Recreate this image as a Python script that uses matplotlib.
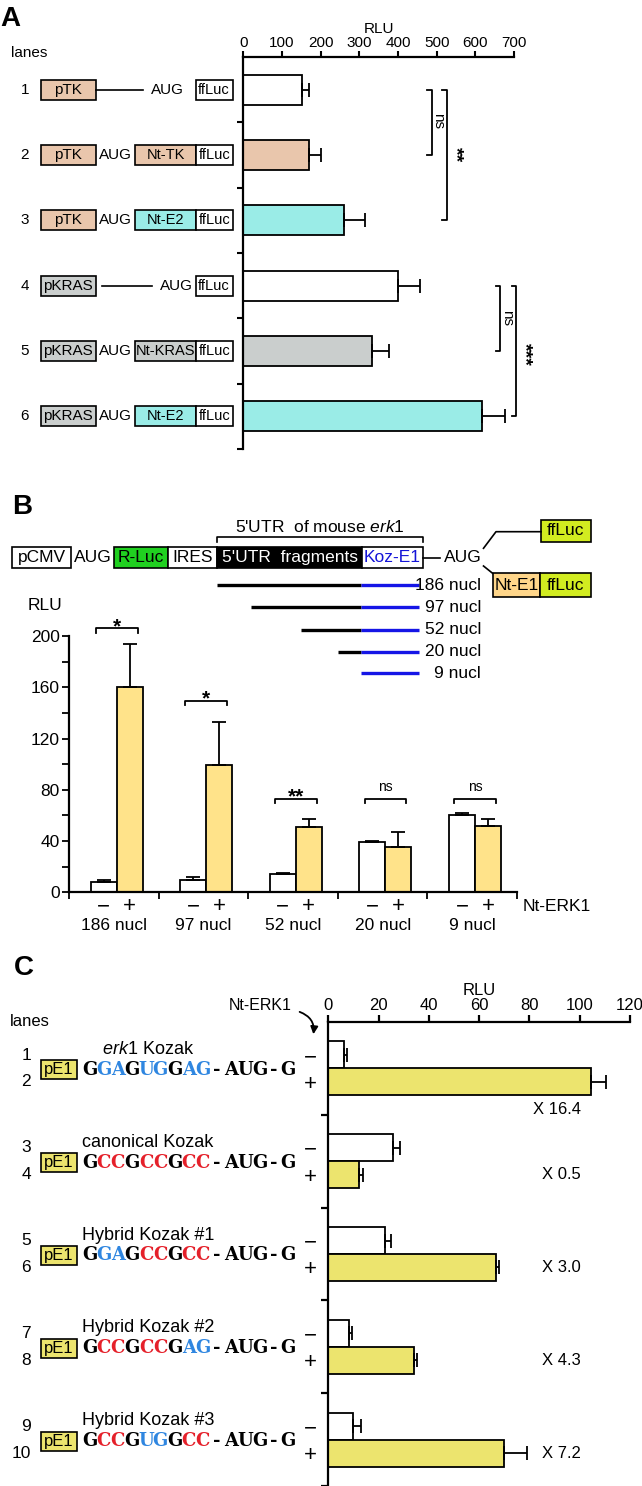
import numpy as np
import matplotlib
matplotlib.use('Agg')
import matplotlib.pyplot as plt
from matplotlib.patches import Rectangle, FancyArrowPatch

plt.rcParams['font.family'] = ['Liberation Sans', 'DejaVu Sans']
plt.rcParams['mathtext.fontset'] = 'custom'
plt.rcParams['mathtext.it'] = 'Liberation Sans:italic'
plt.rcParams['mathtext.rm'] = 'Liberation Sans'

# -------- Panel A data --------
lanes_a = ['1', '2', '3', '4', '5', '6']
promoters_a = ['pTK', 'pTK', 'pTK', 'pKRAS', 'pKRAS', 'pKRAS']
nterm_a = [None, 'Nt-TK', 'Nt-E2', None, 'Nt-KRAS', 'Nt-E2']
rlu_a = [152, 170, 260, 400, 332, 617]
err_a = [17, 31, 55, 58, 45, 60]
ticks_a = [0, 100, 200, 300, 400, 500, 600, 700]

# -------- Panel B data --------
frag_labels = ['186 nucl', '97 nucl', '52 nucl', '20 nucl', '9 nucl']
rlu_b_minus = [8, 9.5, 14, 39, 60]
err_b_minus = [1.5, 2.5, 1, 1, 1.5]
rlu_b_plus = [160, 99, 51, 35, 51.5]
err_b_plus = [34, 34, 6, 12, 6]
sig_b = ['*', '*', '**', 'ns', 'ns']
ticks_b = [0, 40, 80, 120, 160, 200]

# -------- Panel C data --------
lanes_c = ['1', '2', '3', '4', '5', '6', '7', '8', '9', '10']
kozak_names = [r'$\it{erk1}$ Kozak', 'canonical Kozak', 'Hybrid Kozak #1',
               'Hybrid Kozak #2', 'Hybrid Kozak #3']
kozak_seqs = ['GGAGUGGAG', 'GCCGCCGCC', 'GGAGCCGCC', 'GCCGCCGAG', 'GCCGUGGCC']
rlu_c_minus = [6.4, 25.9, 22.6, 8.1, 9.7]
err_c_minus = [1.2, 2.6, 2.2, 1.4, 3.2]
rlu_c_plus = [104.4, 12.2, 66.7, 34.2, 69.9]
err_c_plus = [6, 1.5, 1.3, 1.2, 9]
fold_c = ['X 16.4', 'X 0.5', 'X 3.0', 'X 4.3', 'X 7.2']
ticks_c = [0, 20, 40, 60, 80, 100, 120]

# colours
TAN = '#E9C6AC'
CYAN = '#9AECE7'
GREY = '#CACECD'
ORANGE = '#FFE38A'
YEL_C = '#ECE46E'
LIME = '#D2EC20'
KBLUE = '#2F86E0'
KRED = '#E5202A'

W, H = 642, 1486
fig = plt.figure(figsize=(6.42, 14.86), dpi=100)


def px_axes(x0, y0, x1, y1):
    a = fig.add_axes([x0 / W, 1 - y1 / H, (x1 - x0) / W, (y1 - y0) / H])
    a.set_facecolor('none')
    return a


# overlay in pixel coordinates for schematics and labels
ov = fig.add_axes([0, 0, 1, 1])
ov.set_xlim(0, W)
ov.set_ylim(H, 0)
ov.axis('off')
ov.patch.set_alpha(0)


def box(x0, x1, yc, h, fc, label='', tc='black', fs=11, lw=1.2):
    ov.add_patch(Rectangle((x0, yc - h / 2), x1 - x0, h, facecolor=fc,
                           edgecolor='black', lw=lw))
    if label:
        ov.text((x0 + x1) / 2, yc, label, ha='center', va='center',
                color=tc, fontsize=fs)


EKW = dict(ecolor='black', elinewidth=1.3, capsize=5, capthick=1.3)

# ================= Panel A =================
ov.text(0, 19, 'A', ha='left', va='center', fontsize=20, fontweight='bold')
ov.text(11, 53, 'lanes', ha='left', va='center', fontsize=11)

step_a = 65.33
for i in range(6):
    yc = 57 + (i + 0.5) * step_a
    ov.text(29, yc, lanes_a[i], ha='right', va='center', fontsize=11)
    pcol = TAN if promoters_a[i] == 'pTK' else GREY
    box(41, 95.5, yc, 20, pcol, promoters_a[i])
    if nterm_a[i] is None:
        if promoters_a[i] == 'pTK':
            ov.plot([95.5, 143], [yc, yc], color='k', lw=1.2)
            ov.text(167, yc, 'AUG', ha='center', va='center', fontsize=11)
        else:
            ov.plot([101.5, 151.5], [yc, yc], color='k', lw=1.2)
            ov.text(176.5, yc, 'AUG', ha='center', va='center', fontsize=11)
        box(195.5, 232.8, yc, 20, 'white', 'ffLuc', fs=10.5)
    else:
        ov.text(115, yc, 'AUG', ha='center', va='center', fontsize=11)
        ncol = {'Nt-TK': TAN, 'Nt-E2': CYAN, 'Nt-KRAS': GREY}[nterm_a[i]]
        box(134.7, 196.3, yc, 20, ncol, nterm_a[i], fs=10.5)
        box(196.3, 232.8, yc, 20, 'white', 'ffLuc', fs=10.5)

axA = px_axes(243.3, 57, 514, 449)
ya = np.arange(1, 7)
cols_a = ['white', TAN, CYAN, 'white', GREY, CYAN]
axA.barh(ya, rlu_a, height=0.46, color=cols_a, edgecolor='black', linewidth=1.3,
         xerr=[np.zeros(6), err_a], error_kw=EKW)
axA.set_xlim(0, 700)
axA.set_ylim(6.5, 0.5)
axA.xaxis.tick_top()
axA.xaxis.set_label_position('top')
axA.set_xticks(ticks_a)
axA.set_xlabel('RLU', fontsize=11, labelpad=2)
axA.set_yticks(np.arange(1.5, 7, 1))
axA.set_yticklabels([])
for s in ['right', 'bottom']:
    axA.spines[s].set_visible(False)
for s in ['top', 'left']:
    axA.spines[s].set_linewidth(1.6)
axA.tick_params(axis='x', length=4, width=1.5, pad=1, labelsize=11)
axA.tick_params(axis='y', length=4, width=1.5)


def vbracket(ax, x, xt, y0, y1):
    ax.plot([xt, x, x, xt], [y0, y0, y1, y1], color='k', lw=1.3, clip_on=False)


vbracket(axA, 487, 474, 1, 2)
axA.text(503, 1.48, 'ns', rotation=270, ha='center', va='center', fontsize=11)
vbracket(axA, 526, 515, 1, 3)
axA.text(548, 2.0, '**', rotation=270, ha='center', va='center', fontsize=14,
         fontweight='bold')
vbracket(axA, 663, 654, 4, 5)
axA.text(681, 4.5, 'ns', rotation=270, ha='center', va='center', fontsize=11)
vbracket(axA, 705, 694, 4, 6)
axA.text(727, 5.05, '***', rotation=270, ha='center', va='center', fontsize=14,
         fontweight='bold', clip_on=False)

# ================= Panel B schematic =================
ov.text(12, 507, 'B', ha='left', va='center', fontsize=20, fontweight='bold')
ov.text(319.5, 526.5, r"5'UTR  of mouse $\it{erk1}$", ha='center', va='center',
        fontsize=12.5)
ov.plot([217.3, 217.3, 422.6, 422.6], [542, 536.7, 536.7, 542], color='k', lw=1.2)

yr = 557.5
hr = 21.6
box(12.3, 70.8, yr, hr, 'white', 'pCMV', fs=12.5)
ov.text(93, yr, 'AUG', ha='center', va='center', fontsize=12.5)
box(114.4, 167.9, yr, hr, '#20D020', 'R-Luc', fs=12.5)
box(167.9, 217.3, yr, hr, 'white', 'IRES', fs=12.5)
box(217.3, 362.1, yr, hr, 'black', "5'UTR  fragments", tc='white', fs=12.5)
box(362.1, 422.6, yr, hr, 'white', 'Koz-E1', tc='#1414D8', fs=12.5)
ov.plot([422.6, 440], [yr, yr], color='k', lw=1.2)
ov.text(462.8, yr, 'AUG', ha='center', va='center', fontsize=12.5)
ov.plot([483.5, 496, 541], [548.3, 531.7, 531.7], color='k', lw=1.2)
ov.plot([483.5, 492.6], [566, 573.3], color='k', lw=1.2)
box(541, 590.5, 530.8, 21.6, LIME, 'ffLuc', fs=12.5)
box(492.6, 540.3, 585, 23.4, '#FFD68A', 'Nt-E1', fs=12.5)
box(540.3, 590.5, 585, 23.4, LIME, 'ffLuc', fs=12.5)

frag_start = [217, 251, 301, 338, 361]
frag_y = [585, 607.3, 630, 651.7, 673.3]
for i in range(5):
    if frag_start[i] < 361:
        ov.plot([frag_start[i], 361], [frag_y[i], frag_y[i]], color='black', lw=2.4,
                solid_capstyle='butt')
    ov.plot([361, 419], [frag_y[i], frag_y[i]], color='#1515E6', lw=2.4,
            solid_capstyle='butt')
    ov.text(481, frag_y[i], frag_labels[i], ha='right', va='center', fontsize=12.5)

# ================= Panel B chart =================
ov.text(45, 605, 'RLU', ha='center', va='center', fontsize=12.5)
axB = px_axes(69.3, 636, 517, 892.3)
gx = np.arange(5) + 0.5
axB.bar(gx - 0.115, rlu_b_minus, width=0.29, color='white', edgecolor='black',
        linewidth=1.3, yerr=[np.zeros(5), err_b_minus], error_kw=EKW)
axB.bar(gx + 0.175, rlu_b_plus, width=0.29, color=ORANGE, edgecolor='black',
        linewidth=1.3, yerr=[np.zeros(5), err_b_plus], error_kw=EKW)
axB.set_xlim(0, 5)
axB.set_ylim(0, 200)
for s in ['right', 'top']:
    axB.spines[s].set_visible(False)
for s in ['left', 'bottom']:
    axB.spines[s].set_linewidth(1.6)
axB.set_yticks(ticks_b)
axB.set_yticks(np.arange(20, 200, 40), minor=True)
axB.tick_params(axis='y', which='both', length=5, width=1.3, labelsize=12.5, pad=2)
pm_pos = np.concatenate([gx - 0.115, gx + 0.175])
axB.set_xticks(pm_pos)
axB.set_xticklabels(['\u2212'] * 5 + ['+'] * 5, fontsize=16)
axB.set_xticks(np.arange(0, 6), minor=True)
axB.tick_params(axis='x', which='major', length=0, pad=3)
axB.tick_params(axis='x', which='minor', length=5, width=1.3)
for i in range(5):
    axB.text(gx[i], -0.13, frag_labels[i], transform=axB.get_xaxis_transform(),
             ha='center', va='center', fontsize=12.5)
axB.text(5.06, -0.056, 'Nt-ERK1', transform=axB.get_xaxis_transform(),
         ha='left', va='center', fontsize=12.5)

brk_b = [206, 149.5, 73, 73, 73]
for i in range(5):
    x0 = gx[i] + 0.03 - 0.233
    x1 = gx[i] + 0.03 + 0.233
    yb = brk_b[i]
    axB.plot([x0, x0, x1, x1], [yb - 3.5, yb, yb, yb - 3.5], color='k', lw=1.3,
             clip_on=False)
    if sig_b[i] == 'ns':
        axB.text(gx[i] + 0.03, yb + 6, 'ns', ha='center', va='baseline', fontsize=10)
    else:
        axB.text(gx[i] + 0.03, yb - 3, sig_b[i], ha='center', va='baseline',
                 fontsize=15, fontweight='bold', clip_on=False)

# ================= Panel C =================
ov.text(14, 968, 'C', ha='left', va='center', fontsize=20, fontweight='bold')
ov.text(260, 1006, 'Nt-ERK1', ha='center', va='center', fontsize=11.5)
ov.add_patch(FancyArrowPatch((297, 1011), (313, 1037), connectionstyle='arc3,rad=-0.45',
                             arrowstyle='-|>', mutation_scale=11, lw=1.3, color='k'))
ov.text(10, 1021, 'lanes', ha='left', va='center', fontsize=12)

step_c = 92.8
char_w = 14.18
for i in range(5):
    gcp = 1022 + (i + 0.5) * step_c
    ov.text(31, gcp - 13.4, lanes_c[2 * i], ha='right', va='center', fontsize=12.5)
    ov.text(31, gcp + 13.4, lanes_c[2 * i + 1], ha='right', va='center', fontsize=12.5)
    tx = 102 if i == 0 else 82.3
    ov.text(tx, gcp - 19, kozak_names[i], ha='left', va='center', fontsize=13)
    box(41, 77.4, gcp + 1.5, 19, YEL_C, 'pE1', fs=12)
    full = kozak_seqs[i] + '-AUG-G'
    for j, ch in enumerate(full):
        if j < 9 and j % 3 != 0:
            c = KRED if ch == 'C' else KBLUE
        else:
            c = 'black'
        ov.text(82.3 + (j + 0.5) * char_w, gcp + 1.5, ch, ha='center', va='center',
                color=c, fontsize=13, fontweight='bold', family='DejaVu Serif')

axC = px_axes(328.3, 1022, 630, 1486)
gc = np.arange(5) + 0.5
axC.barh(gc - 0.145, rlu_c_minus, height=0.29, color='white', edgecolor='black',
         linewidth=1.3, xerr=[np.zeros(5), err_c_minus], error_kw=EKW)
axC.barh(gc + 0.145, rlu_c_plus, height=0.29, color=YEL_C, edgecolor='black',
         linewidth=1.3, xerr=[np.zeros(5), err_c_plus], error_kw=EKW)
axC.set_xlim(0, 120)
axC.set_ylim(5, 0)
axC.xaxis.tick_top()
axC.xaxis.set_label_position('top')
axC.set_xticks(ticks_c)
axC.set_xlabel('RLU', fontsize=12, labelpad=2)
axC.tick_params(axis='x', length=5, width=1.6, pad=1.5, labelsize=12)
for s in ['right', 'bottom']:
    axC.spines[s].set_visible(False)
for s in ['top', 'left']:
    axC.spines[s].set_linewidth(1.6)
axC.set_yticks(np.concatenate([gc - 0.145, gc + 0.145]))
axC.set_yticklabels(['\u2212'] * 5 + ['+'] * 5, fontsize=16)
axC.set_yticks(np.arange(1, 6), minor=True)
axC.tick_params(axis='y', which='major', length=0, pad=8)
axC.tick_params(axis='y', which='minor', length=5, width=1.6)
for i in range(5):
    yoff = 0.448 if i == 0 else 0.145
    axC.text(100.5, gc[i] + yoff, fold_c[i], ha='right', va='center', fontsize=12)

fig.savefig('out.png', dpi=100)
